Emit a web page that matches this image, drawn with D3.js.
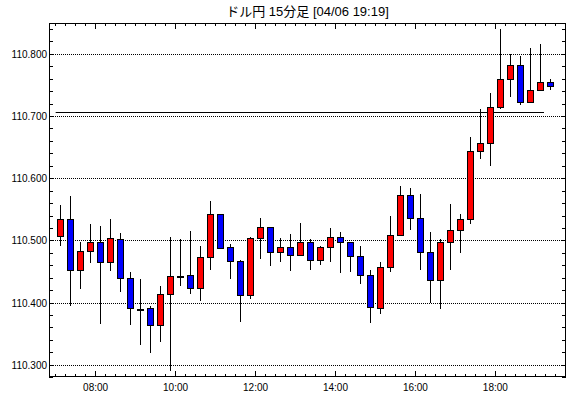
<!DOCTYPE html>
<html>
<head>
<meta charset="utf-8">
<script src="https://cdn.jsdelivr.net/npm/d3@7"></script>
<style>
    body { margin: 0; background: white; }
    text { font-family: "Liberation Sans", "Noto Sans CJK JP", sans-serif; fill: black; }
</style>
</head>
<body>
<div id="chart"></div>
<script>
const title = "ドル円 15分足 [04/06 19:19]"

// 15 minute bars, start time of each bar
const times = ["07:00", "07:15", "07:30", "07:45", "08:00", "08:15", "08:30", "08:45",
               "09:00", "09:15", "09:30", "09:45", "10:00", "10:15", "10:30", "10:45",
               "11:00", "11:15", "11:30", "11:45", "12:00", "12:15", "12:30", "12:45",
               "13:00", "13:15", "13:30", "13:45", "14:00", "14:15", "14:30", "14:45",
               "15:00", "15:15", "15:30", "15:45", "16:00", "16:15", "16:30", "16:45",
               "17:00", "17:15", "17:30", "17:45", "18:00", "18:15", "18:30", "18:45",
               "19:00", "19:15"]
const open  = [110.508, 110.536, 110.454, 110.483, 110.498, 110.466, 110.503, 110.440,
               110.391, 110.392, 110.364, 110.414, 110.444, 110.445, 110.425, 110.474,
               110.543, 110.490, 110.467, 110.413, 110.504, 110.523, 110.482, 110.490,
               110.478, 110.498, 110.470, 110.490, 110.507, 110.498, 110.475, 110.445,
               110.392, 110.458, 110.509, 110.573, 110.537, 110.482, 110.437, 110.498,
               110.517, 110.535, 110.644, 110.657, 110.715, 110.761, 110.782, 110.723,
               110.742, 110.755]
const high  = [110.558, 110.572, 110.499, 110.527, 110.524, 110.535, 110.512, 110.450,
               110.439, 110.395, 110.428, 110.506, 110.503, 110.516, 110.492, 110.564,
               110.544, 110.495, 110.469, 110.507, 110.537, 110.523, 110.505, 110.511,
               110.529, 110.503, 110.491, 110.520, 110.515, 110.498, 110.491, 110.453,
               110.466, 110.540, 110.588, 110.585, 110.575, 110.514, 110.503, 110.559,
               110.543, 110.667, 110.712, 110.738, 110.841, 110.800, 110.797, 110.810,
               110.817, 110.761]
const low   = [110.491, 110.396, 110.423, 110.465, 110.367, 110.452, 110.418, 110.364,
               110.332, 110.319, 110.338, 110.291, 110.428, 110.414, 110.404, 110.454,
               110.487, 110.438, 110.369, 110.407, 110.471, 110.460, 110.466, 110.452,
               110.475, 110.454, 110.462, 110.466, 110.448, 110.450, 110.431, 110.368,
               110.383, 110.450, 110.509, 110.518, 110.454, 110.400, 110.390, 110.454,
               110.481, 110.527, 110.632, 110.621, 110.712, 110.731, 110.718, 110.723,
               110.742, 110.742]
const close = [110.536, 110.454, 110.483, 110.498, 110.466, 110.504, 110.440, 110.392,
               110.391, 110.364, 110.414, 110.443, 110.444, 110.425, 110.474, 110.543,
               110.489, 110.467, 110.413, 110.504, 110.523, 110.482, 110.490, 110.478,
               110.498, 110.470, 110.490, 110.507, 110.498, 110.475, 110.445, 110.393,
               110.458, 110.509, 110.573, 110.537, 110.482, 110.437, 110.498, 110.517,
               110.535, 110.644, 110.657, 110.715, 110.761, 110.782, 110.723, 110.742,
               110.755, 110.749]

const yLabels = ["110.300", "110.400", "110.500", "110.600", "110.700", "110.800"]
const xLabels = ["08:00", "10:00", "12:00", "14:00", "16:00", "18:00"]

// horizontal marker line
const markLevel = 110.707
const markFrom = "07:00"
const markTo = "19:13"

const colorUp = "#ff0000"
const colorDown = "#0000ff"

const W = 570, H = 398
const box = {left: 49, right: 566, top: 23, bottom: 377}

function minutes(t) {
    const p = t.split(":")
    return +p[0] * 60 + +p[1]
}

const svg = d3.select("#chart")
              .append("svg")
              .attr("width", W)
              .attr("height", H)

const x = d3.scaleLinear()
            .domain([410, 1186])
            .range([box.left, box.right])

const y = d3.scaleLinear()
            .domain([110.3, 110.8])
            .range([365.3, 54.3])

const px = v => Math.floor(v) + 0.5

svg.append("text")
   .attr("x", (box.left + box.right) / 2)
   .attr("y", 16)
   .attr("text-anchor", "middle")
   .attr("font-size", 13)
   .text(title)

// grid lines
const grid = svg.append("g")
grid.selectAll("line")
    .data(yLabels)
    .join("line")
    .attr("x1", box.left)
    .attr("x2", box.right)
    .attr("y1", d => px(y(+d)))
    .attr("y2", d => px(y(+d)))
    .attr("stroke", "black")
    .attr("stroke-dasharray", "1,1")

// y labels
svg.append("g")
   .selectAll("text")
   .data(yLabels)
   .join("text")
   .attr("x", box.left - 2)
   .attr("y", d => y(+d))
   .attr("dy", "0.35em")
   .attr("text-anchor", "end")
   .attr("font-size", 10)
   .text(d => d)

// x labels
svg.append("g")
   .selectAll("text")
   .data(xLabels)
   .join("text")
   .attr("x", d => x(minutes(d)))
   .attr("y", 391)
   .attr("text-anchor", "middle")
   .attr("font-size", 10)
   .text(d => d)

// ticks on all four sides
const yTicks = d3.range(110.28, 110.85, 0.02)
const ticks = svg.append("g").attr("stroke", "black")
yTicks.forEach(v => {
    const yy = px(y(v))
    ticks.append("line").attr("x1", box.left).attr("x2", box.left + 4).attr("y1", yy).attr("y2", yy)
    ticks.append("line").attr("x1", box.right - 4).attr("x2", box.right).attr("y1", yy).attr("y2", yy)
})
for (let m = 420; m < 1186; m += 15) {
    const xx = px(x(m))
    const len = (m % 120 === 0) ? 6 : 3
    ticks.append("line").attr("x1", xx).attr("x2", xx).attr("y1", box.bottom).attr("y2", box.bottom - len)
    ticks.append("line").attr("x1", xx).attr("x2", xx).attr("y1", box.top).attr("y2", box.top + len)
}

// marker line
svg.append("line")
   .attr("x1", x(minutes(markFrom)))
   .attr("x2", x(minutes(markTo)))
   .attr("y1", px(y(markLevel)))
   .attr("y2", px(y(markLevel)))
   .attr("stroke", "black")

// candles
const bars = times.map((t, i) => ({t: minutes(t) + 7.5, o: open[i], h: high[i], l: low[i], c: close[i]}))

const candles = svg.append("g")
                   .selectAll("g")
                   .data(bars)
                   .join("g")

candles.append("line")
       .attr("x1", d => px(x(d.t)))
       .attr("x2", d => px(x(d.t)))
       .attr("y1", d => Math.round(y(d.h)))
       .attr("y2", d => Math.round(y(d.l)))
       .attr("stroke", "black")

candles.append("rect")
       .attr("x", d => Math.floor(x(d.t)) - 2.5)
       .attr("width", 6)
       .attr("y", d => Math.round(y(Math.max(d.o, d.c))) + 0.5)
       .attr("height", d => Math.max(1, Math.round(y(Math.min(d.o, d.c))) - Math.round(y(Math.max(d.o, d.c)))))
       .attr("fill", d => d.c > d.o ? colorUp : d.c < d.o ? colorDown : "black")
       .attr("stroke", "black")

// frame
svg.append("rect")
   .attr("x", box.left + 0.5)
   .attr("y", box.top + 0.5)
   .attr("width", box.right - box.left - 1)
   .attr("height", box.bottom - box.top - 1)
   .attr("fill", "none")
   .attr("stroke", "black")
</script>
</body>
</html>
